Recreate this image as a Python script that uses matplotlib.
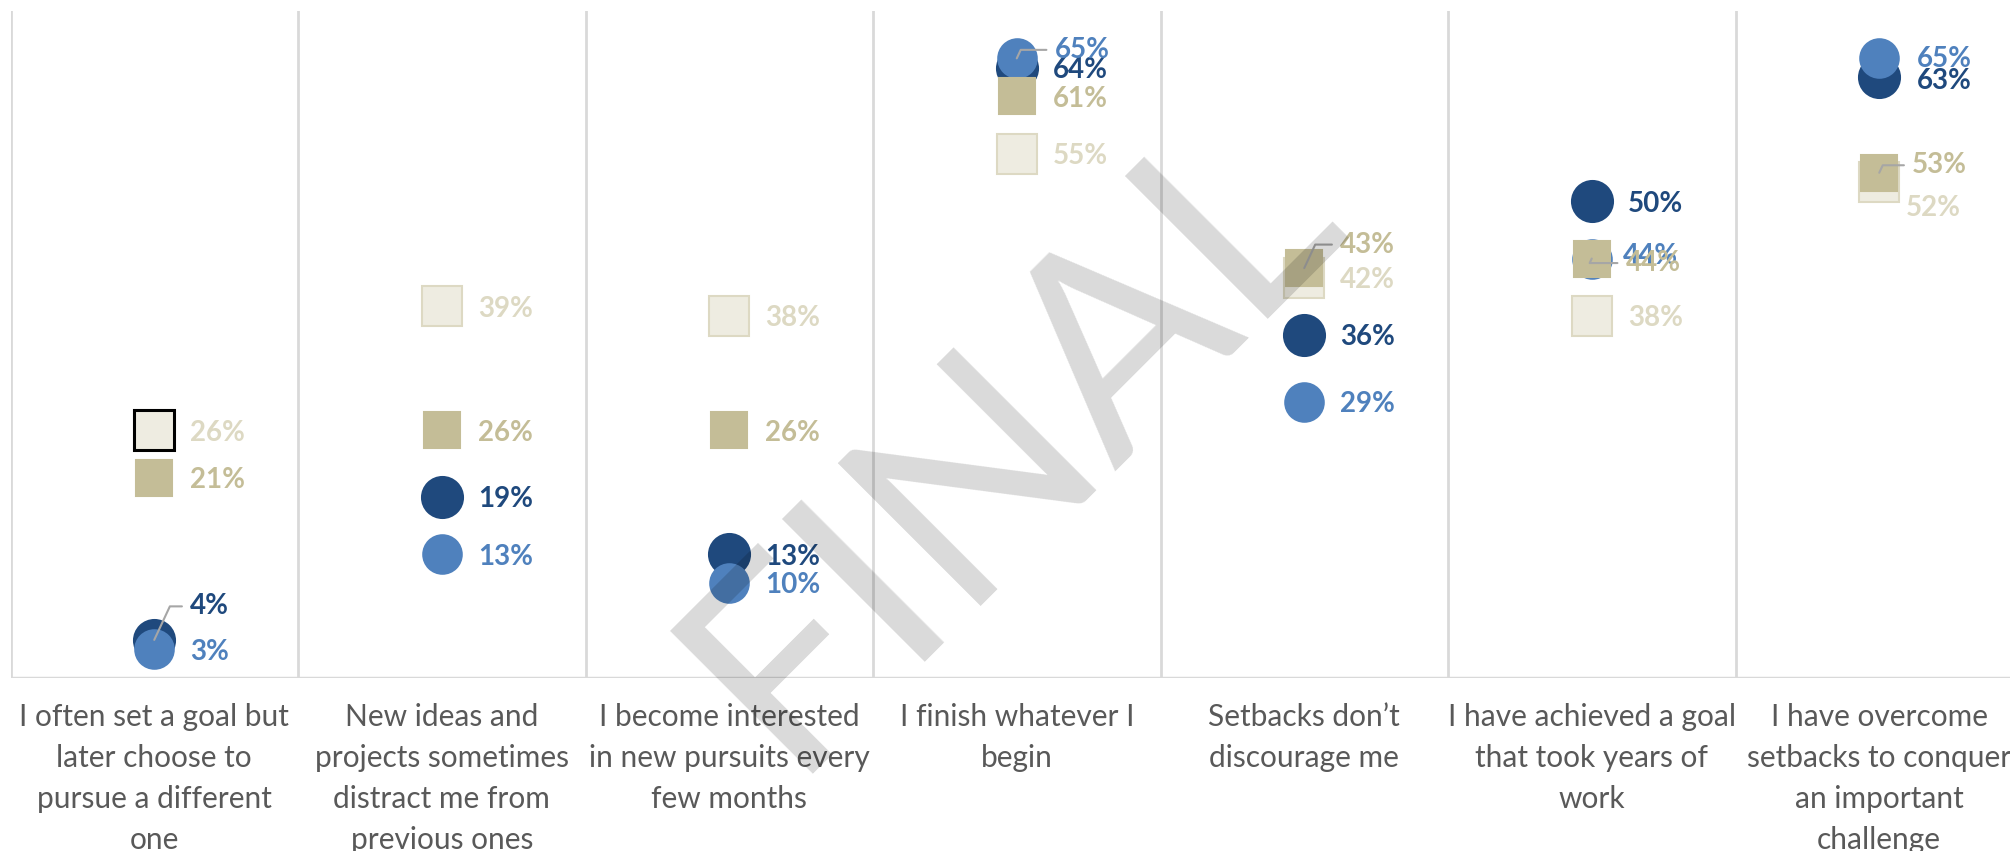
import numpy as np
import matplotlib
matplotlib.use("Agg")
import matplotlib.pyplot as plt

plt.rcParams["font.family"] = ["Lato", "DejaVu Sans"]

# ---- data ----
categories = [
    "I often set a goal but\nlater choose to\npursue a different\none",
    "New ideas and\nprojects sometimes\ndistract me from\nprevious ones",
    "I become interested\nin new pursuits every\nfew months",
    "I finish whatever I\nbegin",
    "Setbacks don\u2019t\ndiscourage me",
    "I have achieved a goal\nthat took years of\nwork",
    "I have overcome\nsetbacks to conquer\nan important\nchallenge",
]
navy_vals = [4, 19, 13, 64, 36, 50, 63]
blue_vals = [3, 13, 10, 65, 29, 44, 65]
tan_vals = [21, 26, 26, 61, 43, 44, 53]
beige_vals = [26, 39, 38, 55, 42, 38, 52]

# styling per series: (values, marker, size px, face, edge, label colour, zorder)
series = {
    "beige": (beige_vals, "s", 39.5, "#eeece1", "#ddd9c3", "#ddd9c3", 2),
    "navy": (navy_vals, "o", 41, "#1f497d", "#1f497d", "#1f497d", 3),
    "blue": (blue_vals, "o", 38.5, "#4f81bd", "#4f81bd", "#4f81bd", 4),
    "tan": (tan_vals, "s", 36, "#c4bd97", "#c4bd97", "#c4bd97", 5),
}

# label nudges in pixels (dx from marker centre, dy up), plus whether a leader line is drawn
DEFAULT_DX = 36
nudges = {
    ("navy", 0): (36, 36, True),
    ("blue", 3): (38, 11, True),
    ("tan", 4): (36, 26, True),
    ("blue", 5): (31, 5, False),
    ("tan", 5): (34, -2, True),
    ("blue", 6): (38, 2, False),
    ("navy", 6): (38, -1, False),
    ("tan", 6): (33, 10, True),
    ("beige", 6): (27, -23, False),
}

W, H = 2010, 851
fig = plt.figure(figsize=(W / 100, H / 100), dpi=100)
left, right, bottom, top = 10.5, 2023.0, 678.0, 10.7
ax = fig.add_axes([left / W, (H - bottom) / H, (right - left) / W, (bottom - top) / H])

x = np.arange(len(categories))
ax.set_xlim(-0.5, len(categories) - 0.5)
ax.set_ylim(0, 70)

px = 0.72  # points per pixel at dpi 100

for name, (vals, mk, size, face, edge, lcol, z) in series.items():
    ax.plot(x, vals, linestyle="none", marker=mk, markersize=size * px,
            markerfacecolor=face, markeredgecolor=edge, markeredgewidth=1.5,
            zorder=z, clip_on=False)
    for i, v in enumerate(vals):
        dx, dy, lead = nudges.get((name, i), (DEFAULT_DX, 0, False))
        kw = {}
        if lead:
            kw["arrowprops"] = dict(arrowstyle="-", color="#a6a6a6", lw=1.5,
                                    shrinkA=4, shrinkB=0, relpos=(0, 0.5),
                                    connectionstyle="angle,angleA=0,angleB=65,rad=0")
        ax.annotate(f"{v}%", xy=(i, v), xytext=(dx * px, dy * px),
                    textcoords="offset points", ha="left", va="center_baseline",
                    fontsize=20, fontweight="bold", color=lcol, zorder=z + 5,
                    annotation_clip=False, **kw)

# first beige square has a black outline (selected point)
ax.plot([x[0]], [beige_vals[0]], linestyle="none", marker="s", markersize=39.5 * px,
        markerfacecolor="#eeece1", markeredgecolor="black", markeredgewidth=2.2, zorder=2)

# category separators and baseline
for b in np.arange(-0.5, len(categories), 1.0):
    ax.axvline(b, color="#d9d9d9", lw=2, zorder=0)
ax.axhline(0, color="#d9d9d9", lw=2.5, zorder=0)

for s in ax.spines.values():
    s.set_visible(False)
ax.set_xticks([])
ax.set_yticks([])

for i, c in enumerate(categories):
    ax.annotate(c, xy=(i, 0), xytext=(0, -25 * px), textcoords="offset points",
                ha="center", va="top", fontsize=21.5, color="#595959",
                linespacing=1.56, annotation_clip=False)

# watermark
fig.text(1066 / W, 1 - 495 / H, "FINAL", rotation=45, fontsize=203,
         color="black", alpha=0.15, ha="center", va="baseline",
         rotation_mode="anchor", zorder=20)

fig.savefig("out.png", dpi=100, facecolor="white")
